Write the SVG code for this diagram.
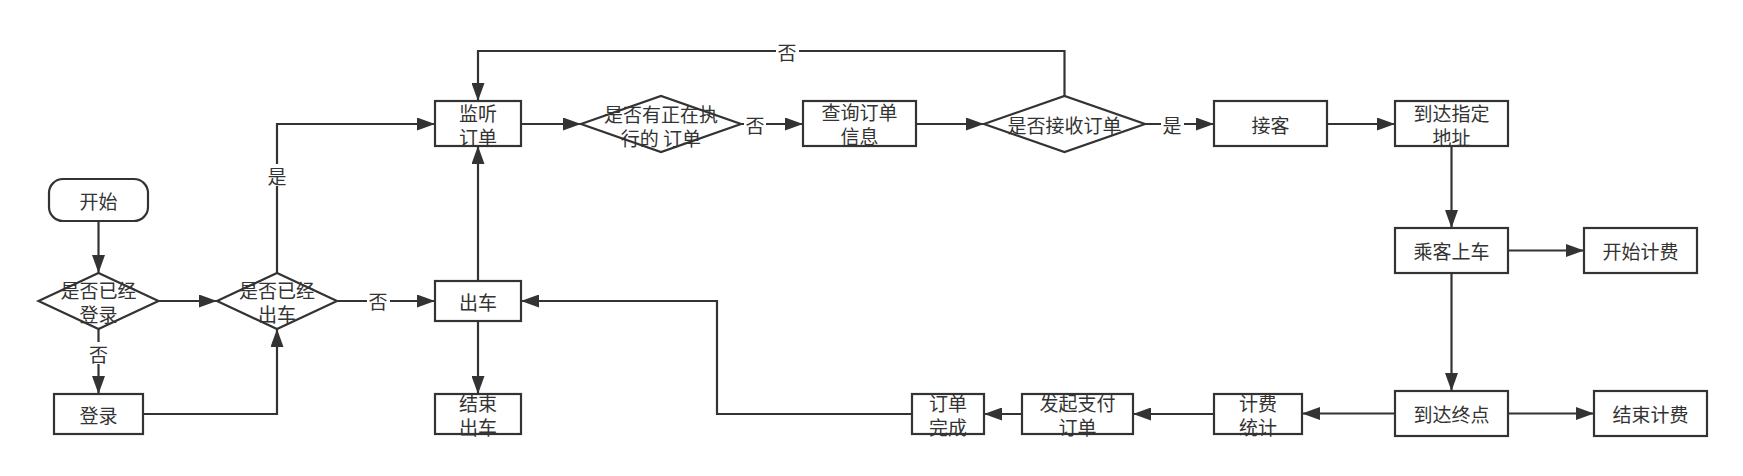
<svg xmlns="http://www.w3.org/2000/svg" width="1743" height="476" viewBox="0 0 1743 476">
<style>
.n{fill:#fff;stroke:#333;stroke-width:2.2}
.t{font-family:"Noto Sans CJK SC","Noto Sans",sans-serif;font-size:19px;fill:#333;text-anchor:middle;dominant-baseline:central}
.e{fill:none;stroke:#333;stroke-width:2.2;marker-end:url(#a)}
.lb{fill:#fff}
</style>
<defs>
<marker id="a" markerUnits="userSpaceOnUse" markerWidth="18" markerHeight="13" refX="18" refY="6.5" orient="auto">
<path d="M0,0 L18,6.5 L0,13 z" fill="#333"/>
</marker>
</defs>
<rect width="1743" height="476" fill="#fff"/>
<g id="connectors">
<path class="e" d="M98.5,221 V273"/>
<path class="e" d="M158.5,301 H217"/>
<path class="e" d="M98.5,329 V394"/>
<path class="e" d="M143,414 H277 V329"/>
<path class="e" d="M277,273 V124 H435"/>
<path class="e" d="M337,301 H435"/>
<path class="e" d="M478,281 V146"/>
<path class="e" d="M478,321 V394"/>
<path class="e" d="M1064.5,96 V51 H478 V101"/>
<path class="e" d="M521,124 H581"/>
<path class="e" d="M741,124 H803"/>
<path class="e" d="M916,124 H984"/>
<path class="e" d="M1145,124 H1214"/>
<path class="e" d="M1327,124 H1395"/>
<path class="e" d="M1451.5,146 V228"/>
<path class="e" d="M1508,250.5 H1584"/>
<path class="e" d="M1451.5,273 V391"/>
<path class="e" d="M1508,413.5 H1594"/>
<path class="e" d="M1395,413.5 H1302"/>
<path class="e" d="M1214,414 H1133"/>
<path class="e" d="M1022,414 H984"/>
<path class="e" d="M912,414 H717 V301 H521"/>
<rect class="lb" x="87" y="342" width="23" height="22"/>
<text class="t" x="98.5" y="353">否</text>
<rect class="lb" x="266" y="164" width="23" height="22"/>
<text class="t" x="277" y="175">是</text>
<rect class="lb" x="367" y="290" width="23" height="22"/>
<text class="t" x="378" y="300">否</text>
<rect class="lb" x="776" y="40" width="23" height="22"/>
<text class="t" x="787" y="51">否</text>
<rect class="lb" x="744" y="113" width="22" height="22"/>
<text class="t" x="755" y="124">否</text>
<rect class="lb" x="1161" y="113" width="23" height="22"/>
<text class="t" x="1172" y="124">是</text>
</g>
<g id="start"><rect class="n" x="49" y="179" width="99" height="42" rx="14"/><text class="t" x="98.5" y="200">开始</text></g>
<g id="d_login"><path class="n" d="M38.5,301 L98.5,273 L158.5,301 L98.5,329 z"/><text class="t" x="98.5" y="289">是否已经</text><text class="t" x="98.5" y="313">登录</text></g>
<g id="d_out"><path class="n" d="M217,301 L277,273 L337,301 L277,329 z"/><text class="t" x="277" y="289">是否已经</text><text class="t" x="277" y="313">出车</text></g>
<g id="login"><rect class="n" x="54" y="394" width="89" height="40"/><text class="t" x="98.5" y="414">登录</text></g>
<g id="out"><rect class="n" x="435" y="281" width="86" height="40"/><text class="t" x="478" y="301">出车</text></g>
<g id="endout"><rect class="n" x="435" y="394" width="86" height="40"/><text class="t" x="478" y="402">结束</text><text class="t" x="478" y="426">出车</text></g>
<g id="listen"><rect class="n" x="435" y="101" width="86" height="45"/><text class="t" x="478" y="112">监听</text><text class="t" x="478" y="136">订单</text></g>
<g id="d_exec"><path class="n" d="M581,124 L661,96 L741,124 L661,152 z"/><text class="t" x="661" y="113">是否有正在执</text><text class="t" x="661" y="137">行的 订单</text></g>
<g id="query"><rect class="n" x="803" y="101" width="113" height="45"/><text class="t" x="859.5" y="111">查询订单</text><text class="t" x="859.5" y="135">信息</text></g>
<g id="d_accept"><path class="n" d="M984,124 L1064.5,96 L1145,124 L1064.5,152 z"/><text class="t" x="1064.5" y="124">是否接收订单</text></g>
<g id="pickup"><rect class="n" x="1214" y="101" width="113" height="45"/><text class="t" x="1270.5" y="124">接客</text></g>
<g id="arrive"><rect class="n" x="1395" y="101" width="113" height="45"/><text class="t" x="1451.5" y="112">到达指定</text><text class="t" x="1451.5" y="136">地址</text></g>
<g id="board"><rect class="n" x="1395" y="228" width="113" height="45"/><text class="t" x="1451.5" y="250.5">乘客上车</text></g>
<g id="startfee"><rect class="n" x="1584" y="228" width="113" height="45"/><text class="t" x="1640.5" y="250.5">开始计费</text></g>
<g id="dest"><rect class="n" x="1395" y="391" width="113" height="45"/><text class="t" x="1451.5" y="413.5">到达终点</text></g>
<g id="endfee"><rect class="n" x="1594" y="391" width="113" height="45"/><text class="t" x="1650.5" y="413.5">结束计费</text></g>
<g id="stat"><rect class="n" x="1214" y="394" width="88" height="40"/><text class="t" x="1258" y="402">计费</text><text class="t" x="1258" y="426">统计</text></g>
<g id="pay"><rect class="n" x="1022" y="394" width="111" height="40"/><text class="t" x="1077.5" y="402">发起支付</text><text class="t" x="1077.5" y="426">订单</text></g>
<g id="done"><rect class="n" x="912" y="394" width="72" height="40"/><text class="t" x="948" y="402">订单</text><text class="t" x="948" y="426">完成</text></g>
</svg>
